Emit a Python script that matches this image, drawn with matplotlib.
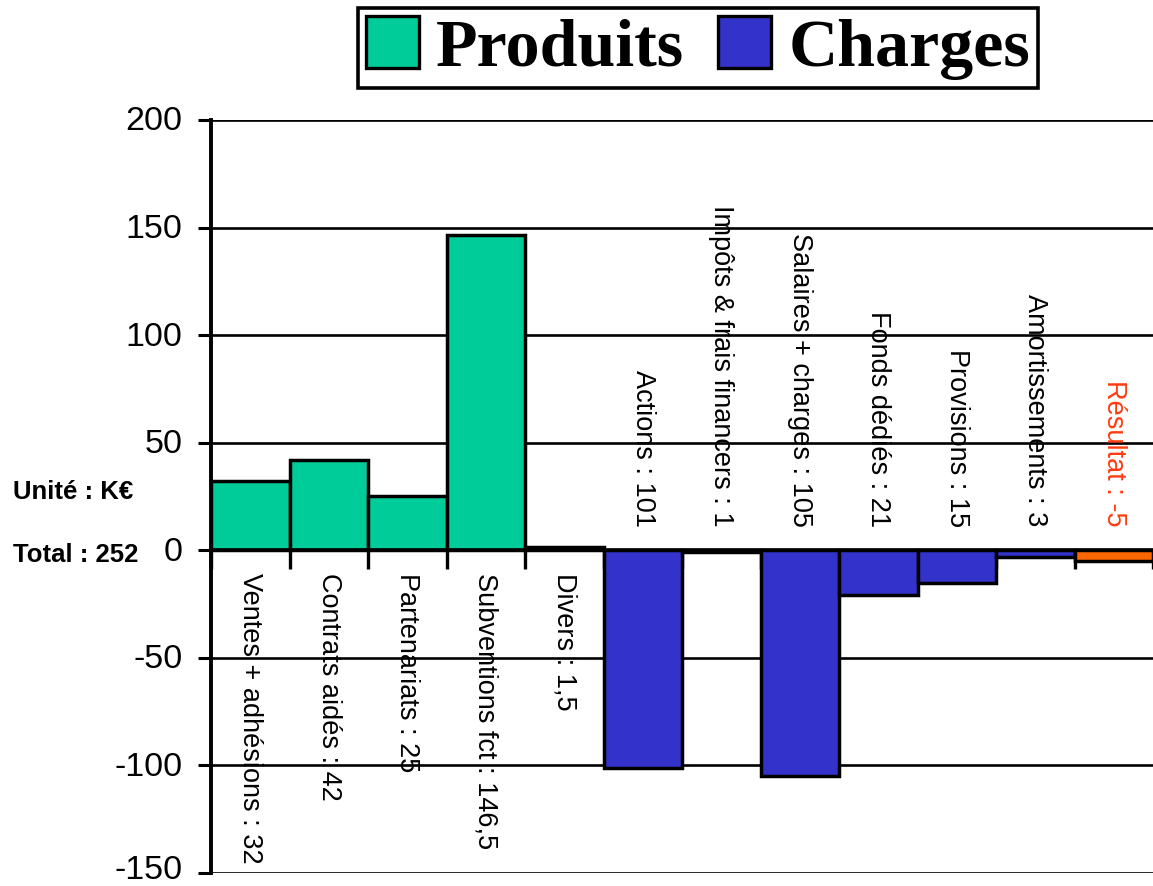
import matplotlib
matplotlib.use("Agg")
import matplotlib.pyplot as plt
import matplotlib.transforms as mtransforms
from matplotlib.patches import Patch

categories = ["Ventes + adhésions : 32", "Contrats aidés : 42", "Partenariats : 25",
              "Subventions fct : 146,5", "Divers : 1,5", "Actions : 101",
              "Impôts & frais financers : 1", "Salaires + charges : 105",
              "Fonds dédiés : 21", "Provisions : 15", "Amortissements : 3", "Résultat : -5"]
values = [32, 42, 25, 146.5, 1.5, -101, -1, -105, -21, -15, -3, -5]
kinds = ["P", "P", "P", "P", "P", "C", "C", "C", "C", "C", "C", "R"]
yticks = [-150, -100, -50, 0, 50, 100, 150, 200]
legend_labels = ["Produits", "Charges"]

GREEN = "#00CC99"
BLUE = "#3333CC"
ORANGE = "#FF6600"
colmap = {"P": GREEN, "C": BLUE, "R": ORANGE}

fig = plt.figure(figsize=(11.53, 8.86), dpi=100)
ax = fig.add_axes([211/1153, 1-873/886, 1-211/1153, (873-120)/886])

x = list(range(len(values)))
ax.bar(x, values, width=1.0, color=[colmap[k] for k in kinds],
       edgecolor="black", linewidth=2.5, zorder=2)

ax.set_xlim(-0.5, len(values) - 0.5)
ax.set_ylim(-150, 200)
ax.set_yticks(yticks)
ax.set_yticklabels([str(v) for v in yticks], fontsize=24.5, family="Liberation Sans")
ax.yaxis.grid(True, color="black", linewidth=1.9, zorder=0)
ax.set_axisbelow(True)

for s in ["top", "right"]:
    ax.spines[s].set_visible(False)
ax.spines["left"].set_linewidth(2.8)
ax.spines["bottom"].set_position(("data", 0))
ax.spines["bottom"].set_linewidth(2.6)
ax.spines["bottom"].set_zorder(3)
ax.set_xticks([i - 0.5 for i in range(len(values) + 1)])
ax.set_xticklabels([])
ax.tick_params(axis="x", direction="out", length=14, width=2.4)
ax.tick_params(axis="y", direction="out", length=9.5, width=2.2, pad=11)

for t in ax.get_yticklabels():
    up = 6 if t.get_text() == "-150" else 1.5
    t.set_transform(t.get_transform() +
                    mtransforms.ScaledTranslation(0, up/100, fig.dpi_scale_trans))

for i, (lab, v, k) in enumerate(zip(categories, values, kinds)):
    col = "#FF3B0F" if k == "R" else "black"
    if v > 0:
        ax.annotate(lab, xy=(i, 0), xytext=(0, -16), textcoords="offset points",
                    rotation=270, rotation_mode="anchor", ha="left", va="center",
                    fontsize=19.5, family="Liberation Sans", color=col)
    else:
        ax.annotate(lab, xy=(i, 0), xytext=(0, 17), textcoords="offset points",
                    rotation=270, rotation_mode="anchor", ha="right", va="center",
                    fontsize=19.5, family="Liberation Sans", color=col)

fig.text(13/1153, 1-492/886, "Unité : K€", fontsize=18.5, fontweight="bold",
         family="Liberation Sans", va="center", ha="left")
fig.text(13/1153, 1-555/886, "Total : 252", fontsize=18.5, fontweight="bold",
         family="Liberation Sans", va="center", ha="left")

handles = [Patch(facecolor=GREEN, edgecolor="black", linewidth=2.4),
           Patch(facecolor=BLUE, edgecolor="black", linewidth=2.4)]
leg = fig.legend(handles, legend_labels, loc="center", bbox_to_anchor=(698/1153, 1-48/886),
                 ncol=2, frameon=True, fancybox=False, edgecolor="black", framealpha=1,
                 prop={"family": "Liberation Serif", "weight": "bold", "size": 49},
                 handlelength=0.78, handleheight=0.78, handletextpad=0.25,
                 columnspacing=0.5, borderpad=0.12, borderaxespad=0)
leg.get_frame().set_linewidth(2.6)

fig.savefig("out.png", dpi=100)
